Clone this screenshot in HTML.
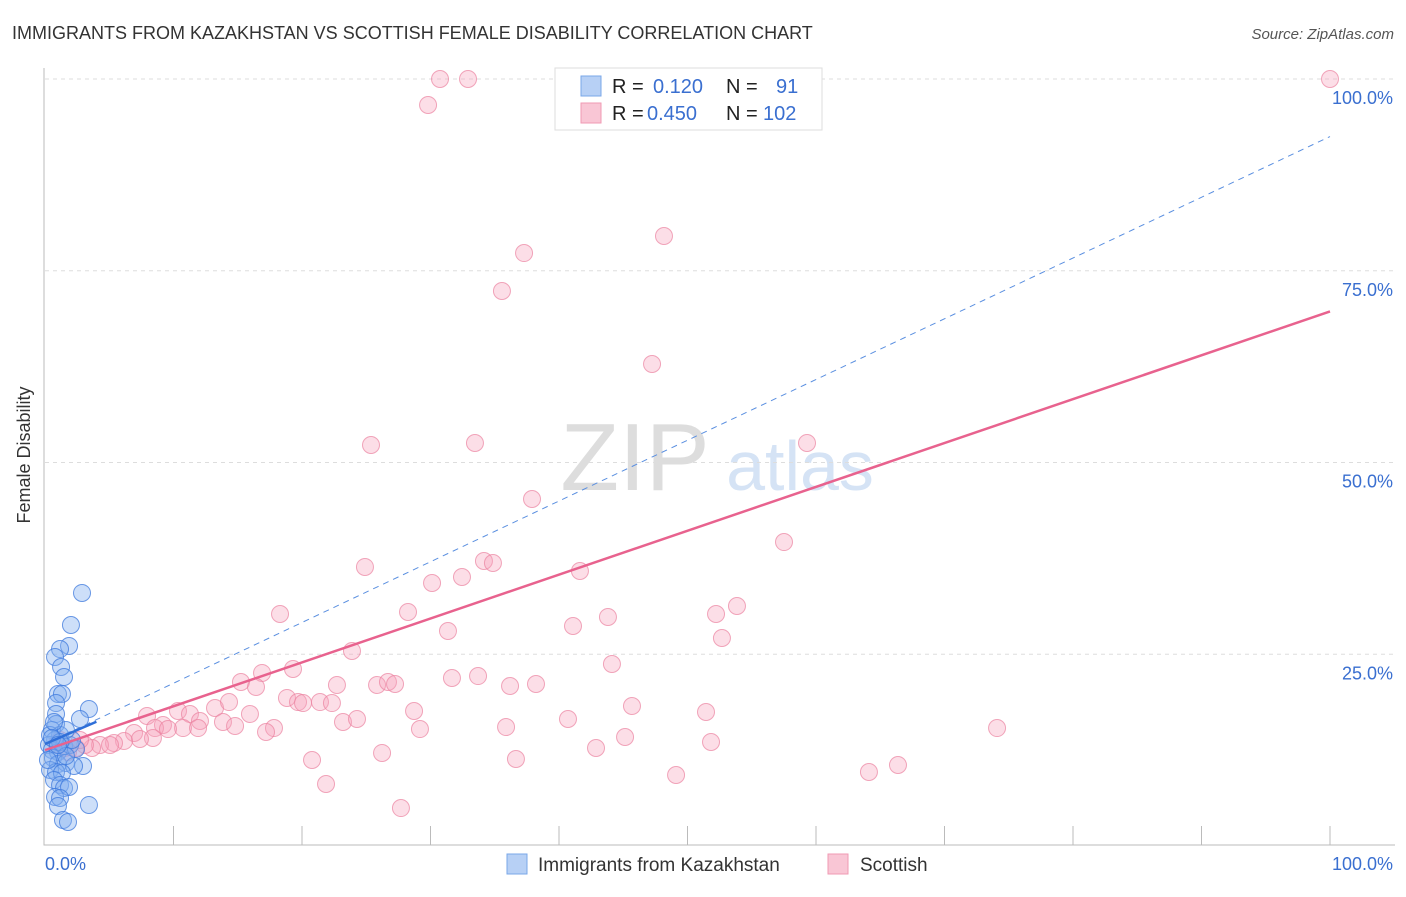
<!DOCTYPE html>
<html><head><meta charset="utf-8"><style>
body{margin:0;background:#fff;font-family:"Liberation Sans",sans-serif}
svg text{font-family:"Liberation Sans",sans-serif}
</style></head><body>
<svg id="c" width="1406" height="892">
<text x="12" y="39" font-size="18" fill="#333">IMMIGRANTS FROM KAZAKHSTAN VS SCOTTISH FEMALE DISABILITY CORRELATION CHART</text>
<text x="1394" y="39" font-size="15" fill="#555" font-style="italic" text-anchor="end">Source: ZipAtlas.com</text>
<g><text x="635" y="490" font-size="96" fill="#ddd" font-family="Liberation Serif" text-anchor="middle">ZIP</text><text x="800" y="490" font-size="70" fill="#d5e3f5" text-anchor="middle">atlas</text></g>
<g id="grid"></g><g id="axes"></g><g id="pts"></g><g id="lines"></g>
<text x="30" y="455" font-size="18" fill="#333" transform="rotate(-90 30 455)" text-anchor="middle">Female Disability</text>
<g>
<rect x="555" y="68" width="267" height="62" fill="#fff" stroke="#ddd"/>
<rect x="581" y="76" width="20" height="20" fill="#b7d0f5" stroke="#7aa7e8"/>
<rect x="581" y="103" width="20" height="20" fill="#f9c6d5" stroke="#f09ab3"/>
<text x="612" y="93" font-size="20" fill="#222">R = </text><text x="653" y="93" font-size="20" fill="#3a6fd0">0.120</text>
<text x="726" y="93" font-size="20" fill="#222">N = </text><text x="776" y="93" font-size="20" fill="#3a6fd0">91</text>
<text x="612" y="120" font-size="20" fill="#222">R = </text><text x="647" y="120" font-size="20" fill="#3a6fd0">0.450</text>
<text x="726" y="120" font-size="20" fill="#222">N = </text><text x="763" y="120" font-size="20" fill="#3a6fd0">102</text>
</g>
<g>
<rect x="507" y="854" width="20" height="20" fill="#b7d0f5" stroke="#7aa7e8"/>
<text x="538" y="871" font-size="19" fill="#333">Immigrants from Kazakhstan</text>
<rect x="828" y="854" width="20" height="20" fill="#f9c6d5" stroke="#f09ab3"/>
<text x="860" y="871" font-size="19" fill="#333">Scottish</text>
</g>
</svg>
<script>
const yTicks=[25,50,75,100];
const yTickLabels=["25.0%","50.0%","75.0%","100.0%"];
const pinkX=[];const pinkY=[];const blueX=[];const blueY=[];
const pinkPx=[[440,79],[468,79],[755,79],[1330,79],[428,105],[524,253],[664,236],[502,291],[652,364],[371,445],[475,443],[807,443],[532,499],[784,542],[365,567],[484,561],[493,563],[432,583],[462,577],[580,571],[280,614],[408,612],[716,614],[737,606],[608,617],[448,631],[573,626],[722,638],[352,651],[612,664],[262,673],[293,669],[241,682],[256,687],[337,685],[377,685],[388,682],[395,684],[452,678],[478,676],[510,686],[536,684],[287,698],[298,702],[303,703],[320,702],[332,703],[178,711],[190,714],[147,716],[215,708],[229,702],[250,714],[414,711],[632,706],[706,712],[200,721],[163,725],[183,728],[223,722],[235,726],[343,722],[357,719],[506,727],[568,719],[274,728],[420,729],[997,728],[134,733],[155,728],[168,729],[198,728],[266,732],[153,738],[140,739],[124,741],[114,743],[625,737],[711,742],[100,745],[92,748],[85,745],[76,748],[65,748],[57,744],[68,752],[596,748],[312,760],[382,753],[516,759],[676,775],[869,772],[898,765],[326,784],[401,808],[110,745],[80,740],[60,740]];
const bluePx=[[82,593],[71,625],[69,646],[60,649],[55,657],[61,667],[64,677],[58,694],[62,694],[56,703],[89,709],[80,719],[56,714],[56,724],[52,730],[60,735],[55,740],[49,745],[52,750],[58,752],[64,746],[70,745],[76,749],[53,758],[58,764],[66,763],[83,766],[74,766],[50,770],[56,772],[62,773],[54,780],[60,785],[64,788],[69,787],[55,797],[60,798],[89,805],[58,806],[63,820],[68,822],[50,735],[48,760],[72,740],[66,730],[54,722],[60,742],[52,738],[66,756],[58,745]];
// convert reading to data values (percent)
for(const p of pinkPx){pinkX.push(+((p[0]-45)/12.85).toFixed(2));pinkY.push(+((846-p[1])/7.67).toFixed(2));}
for(const p of bluePx){blueX.push(+((p[0]-45)/12.85).toFixed(2));blueY.push(+((846-p[1])/7.67).toFixed(2));}
const pinkTrend=[12.5,69.7];const blueDash=[13.3,92.5];const blueSolidEnd=[4,16.2];
const sx=v=>45+v*12.85, sy=v=>846-v*7.67;
const NS="http://www.w3.org/2000/svg";
function mk(parent,tag,attrs){const e=document.createElementNS(NS,tag);for(const k in attrs)e.setAttribute(k,attrs[k]);document.getElementById(parent).appendChild(e);return e;}
yTicks.forEach((t,i)=>{
 const g=mk('grid','line',{x1:45,x2:1395,y1:sy(t),y2:sy(t),stroke:'#ddd','stroke-dasharray':'4,4'});
 
 
 const l=mk('axes','text',{x:1393,y:sy(t)+25,'font-size':18,fill:'#3a6fd0','text-anchor':'end'});
 l.textContent=yTickLabels[i];
 
 
});
const ax=mk('axes','path',{d:'M44 68V845H1395',stroke:'#bbb',fill:'none'});


for(let k=1;k<=10;k++){const t=mk('axes','line',{x1:sx(k*10),x2:sx(k*10),y1:826,y2:845,stroke:'#bbb'});
 
 }
const xl=mk('axes','text',{x:45,y:870,'font-size':18,fill:'#3a6fd0'});xl.textContent='0.0%';


const xr=mk('axes','text',{x:1393,y:870,'font-size':18,fill:'#3a6fd0','text-anchor':'end'});xr.textContent='100.0%';


pinkX.forEach((x,i)=>{const c=mk('pts','circle',{cx:sx(x),cy:sy(pinkY[i]),r:8.5,fill:'rgba(245,160,185,0.35)',stroke:'rgba(235,130,160,0.7)'});
 
 });
blueX.forEach((x,i)=>{const c=mk('pts','circle',{cx:sx(x),cy:sy(blueY[i]),r:8.5,fill:'rgba(130,175,240,0.4)',stroke:'rgba(60,120,220,0.75)'});
 
 });
const d=mk('lines','line',{x1:sx(0),y1:sy(blueDash[0]),x2:sx(100),y2:sy(blueDash[1]),stroke:'#5a8fe0','stroke-dasharray':'6,5','stroke-width':1});


const s=mk('lines','line',{x1:sx(0),y1:sy(blueDash[0]),x2:sx(blueSolidEnd[0]),y2:sy(blueSolidEnd[1]),stroke:'#2f6fd8','stroke-width':2.5});


const p=mk('lines','line',{x1:sx(0),y1:sy(pinkTrend[0]),x2:sx(100),y2:sy(pinkTrend[1]),stroke:'#e8628e','stroke-width':2.5});


</script>
</body></html>
